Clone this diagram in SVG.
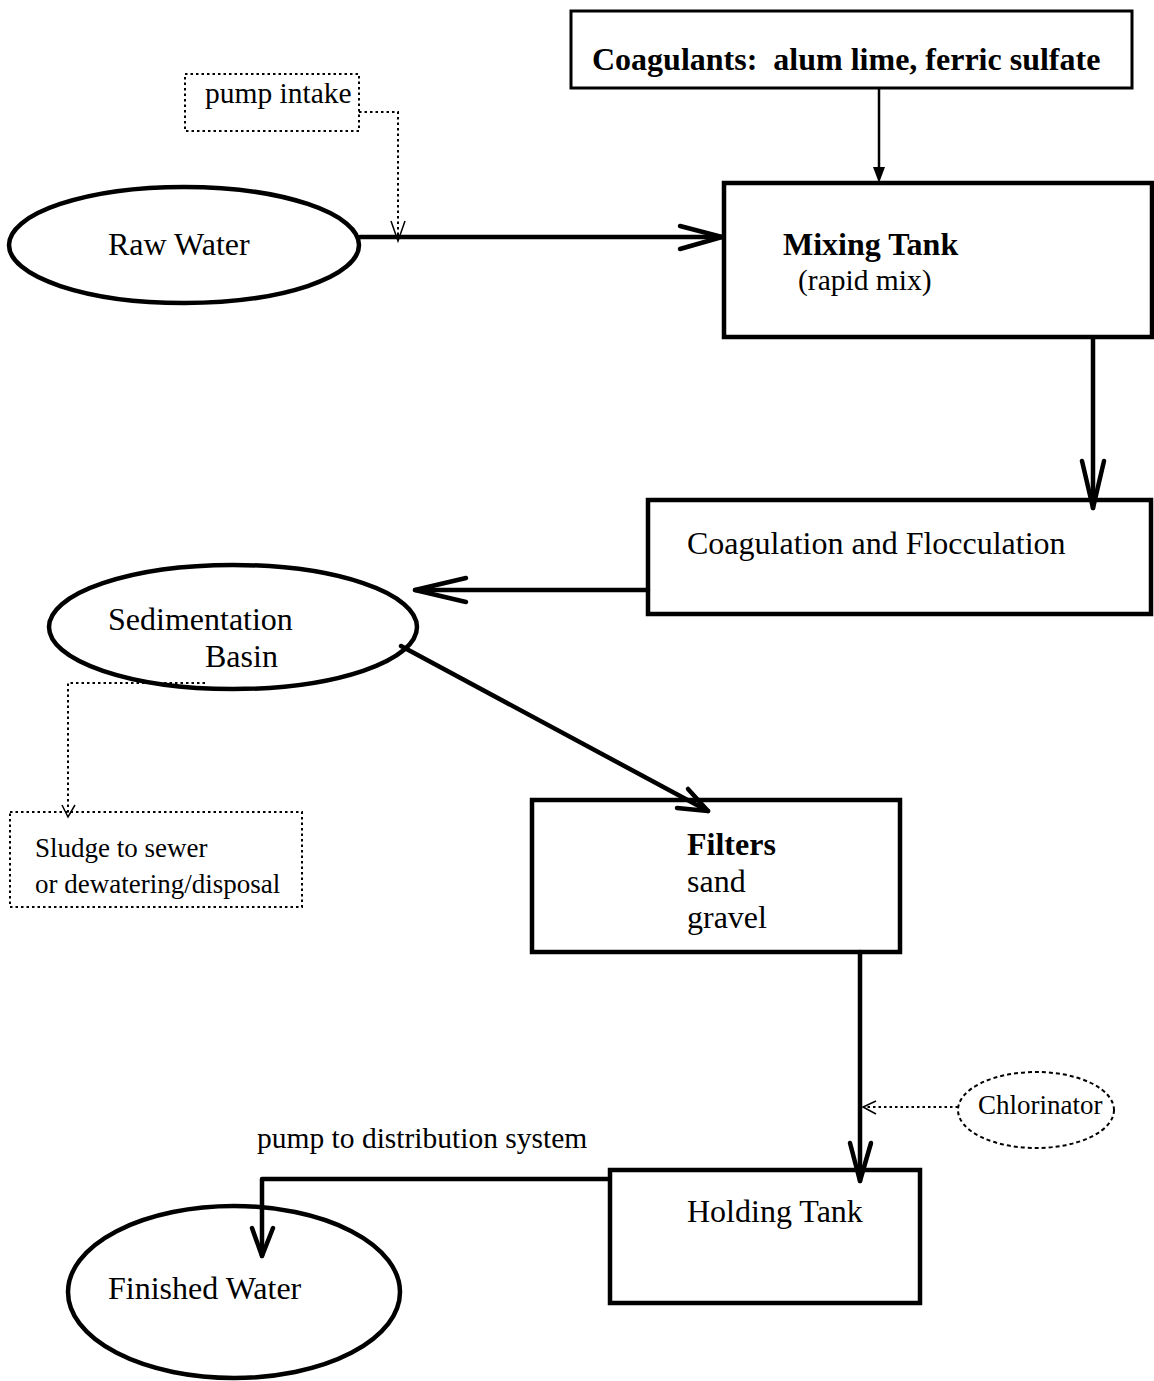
<svg xmlns="http://www.w3.org/2000/svg" width="1154" height="1381" viewBox="0 0 1154 1381">
<style>
text{font-family:"Liberation Serif","Times New Roman",serif;fill:#000}
.t{font-size:32px}
.b{font-size:32px;font-weight:bold}
.s{font-size:29.5px}
.xs{font-size:27px}
.box{fill:#fff;stroke:#000;stroke-width:4.5}
.dot{fill:none;stroke:#000;stroke-width:2;stroke-dasharray:2.5,3}
.dash{fill:none;stroke:#000;stroke-width:2;stroke-dasharray:4,3}
.ln{fill:none;stroke:#000;stroke-width:4.5;stroke-linecap:round;stroke-linejoin:round}
.thin{fill:none;stroke:#000;stroke-width:1.5}
</style>
<rect width="1154" height="1381" fill="#fff"/>
<g id="coagulants">
  <rect x="571" y="11" width="561" height="77" fill="#fff" stroke="#000" stroke-width="3"/>
  <text class="b" x="592" y="70" xml:space="preserve">Coagulants:  alum lime, ferric sulfate</text>
</g>
<g id="pump-intake">
  <rect class="dot" x="185" y="74" width="174" height="57"/>
  <text class="s" x="205" y="103">pump intake</text>
</g>
<g id="raw-water">
  <ellipse class="box" cx="184" cy="245" rx="175" ry="58"/>
  <text class="t" x="108" y="255">Raw Water</text>
</g>
<g id="mixing-tank">
  <rect class="box" x="724" y="183" width="428" height="154"/>
  <text class="b" x="783" y="255">Mixing Tank</text>
  <text class="s" x="798" y="290">(rapid mix)</text>
</g>
<g id="coagulation">
  <rect class="box" x="648" y="500" width="503" height="114"/>
  <text class="t" x="687" y="554">Coagulation and Flocculation</text>
</g>
<g id="sedimentation">
  <ellipse class="box" cx="233" cy="627" rx="184" ry="62"/>
  <text class="t" x="108" y="630">Sedimentation</text>
  <text class="t" x="205" y="667">Basin</text>
</g>
<g id="sludge">
  <rect class="dot" x="10" y="812" width="292" height="95"/>
  <text class="xs" x="35" y="857">Sludge to sewer</text>
  <text class="xs" x="35" y="893">or dewatering/disposal</text>
</g>
<g id="filters">
  <rect class="box" x="532" y="800" width="368" height="152"/>
  <text class="b" x="687" y="855">Filters</text>
  <text class="t" x="687" y="892">sand</text>
  <text class="t" x="687" y="928">gravel</text>
</g>
<g id="chlorinator">
  <ellipse class="dash" cx="1036" cy="1110" rx="78" ry="38"/>
  <text class="xs" x="978" y="1114">Chlorinator</text>
</g>
<g id="holding-tank">
  <rect class="box" x="610" y="1170" width="310" height="133"/>
  <text class="t" x="687" y="1222">Holding Tank</text>
</g>
<g id="finished-water">
  <ellipse class="box" cx="234" cy="1292" rx="166" ry="86"/>
  <text class="t" x="108" y="1299">Finished Water</text>
</g>
<g id="connectors">
  <!-- coagulants to mixing -->
  <line x1="879" y1="88" x2="879" y2="170" stroke="#000" stroke-width="2.5"/>
  <polygon points="873,167 885,167 879,183" fill="#000"/>
  <!-- pump intake dotted -->
  <polyline class="dot" points="359,112 398,112 398,240"/>
  <polyline class="thin" points="391,221 398,241 405,221"/>
  <!-- raw water to mixing -->
  <line class="ln" x1="360" y1="237" x2="722" y2="237"/>
  <polyline class="ln" points="680,226 722,237 680,249"/>
  <!-- mixing to coag -->
  <line class="ln" x1="1093" y1="338" x2="1093" y2="508"/>
  <polyline class="ln" points="1082,461 1093,508 1104,461"/>
  <!-- coag to sedimentation -->
  <line class="ln" x1="648" y1="590" x2="415" y2="590"/>
  <polyline class="ln" points="466,578 415,590 466,602"/>
  <!-- sedimentation to filters -->
  <line class="ln" x1="401" y1="646" x2="708" y2="811"/>
  <polyline class="ln" points="688,789 708,811 677,808"/>
  <!-- sludge dotted -->
  <polyline class="dot" points="205,683 68,683 68,815"/>
  <polyline class="thin" points="62,805 68,817 75,805"/>
  <!-- filters to holding -->
  <line class="ln" x1="860" y1="952" x2="860" y2="1181"/>
  <polyline class="ln" points="850,1143 860,1181 871,1143"/>
  <!-- chlorinator dotted -->
  <line class="dot" x1="958" y1="1107" x2="864" y2="1107"/>
  <polyline class="thin" points="876,1101 863,1107 876,1114"/>
  <!-- holding to finished -->
  <polyline class="ln" points="609,1179 262,1179 262,1256"/>
  <polyline class="ln" points="252,1228 262,1256 273,1228"/>
</g>
<text class="s" x="257" y="1148">pump to distribution system</text>
</svg>
